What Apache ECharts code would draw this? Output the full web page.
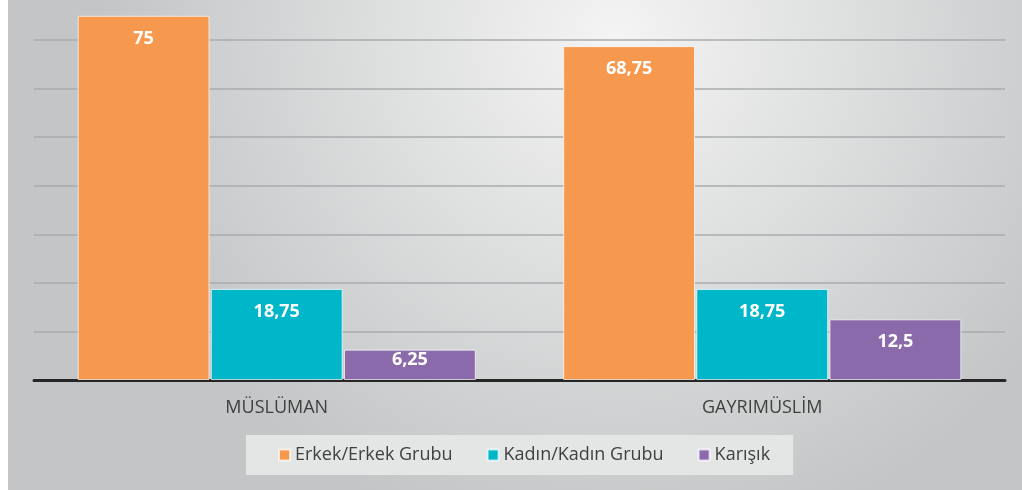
<!DOCTYPE html>
<html>
<head>
<meta charset="utf-8">
<script src="https://cdn.jsdelivr.net/npm/echarts@6/dist/echarts.min.js"></script>
<style>
  html, body { margin: 0; padding: 0; background: #fff; }
  #chart { width: 1014px; height: 490px; margin-left: 8px; }
</style>
</head>
<body>
<div id="chart"></div>
<script>
// kategoriler ve seriler
const categories = ["MÜSLÜMAN", "GAYRIMÜSLİM"];
const erkek = [75, 68.75];
const kadin = [18.75, 18.75];
const karisik = [6.25, 12.5];
const seriesNames = ["Erkek/Erkek Grubu", "Kadın/Kadın Grubu", "Karışık"];
const colors = ["#f7984f", "#00b7c9", "#8b6aab"];

const fmt = (p) => String(p.value).replace(".", ",");

// küçük çubuklarda etiket biraz yukarı kayıyor
const toItems = (arr) => arr.map((v) => (v < 10 ? { value: v, label: { distance: 1 } } : v));

const barSeries = (name, data, color) => ({
  name: name,
  type: "bar",
  data: toItems(data),
  barGap: "1%",
  barCategoryGap: "18%",
  itemStyle: { color: color, borderColor: "rgba(255,255,255,0.7)", borderWidth: 1 },
  label: {
    show: true,
    position: "insideTop",
    distance: 14,
    color: "#fff",
    fontSize: 18,
    fontWeight: "bold",
    fontFamily: "Open Sans",
    formatter: fmt,
  },
});

const myChart = echarts.init(document.getElementById("chart"));
myChart.setOption({
  backgroundColor: {
    type: "radial",
    x: 0.6, y: 0.08, r: 1.05,
    colorStops: [
      { offset: 0, color: "#f4f4f4" },
      { offset: 1, color: "#c3c5c6" },
    ],
  },
  color: colors,
  grid: { left: 26, right: 17, top: 0, bottom: 110 },
  legend: {
    bottom: 15,
    left: 238,
    backgroundColor: "#e4e5e5",
    padding: [11, 23, 11, 32],
    itemWidth: 11,
    itemHeight: 11,
    itemGap: 34,
    icon: "rect",
    textStyle: { color: "#404040", fontSize: 18, fontFamily: "Open Sans" },
    data: seriesNames,
  },
  xAxis: {
    type: "category",
    data: categories,
    axisLine: { lineStyle: { color: "#262626", width: 3 } },
    axisTick: { show: false },
    axisLabel: { color: "#404040", fontSize: 18, fontFamily: "Open Sans", margin: 19 },
  },
  yAxis: {
    type: "value",
    min: 0,
    max: 78.25,
    interval: 10,
    axisLabel: { show: false },
    axisLine: { show: false },
    axisTick: { show: false },
    splitLine: { showMaxLine: false, lineStyle: { color: "#a9abac", width: 1.5 } },
  },
  series: [
    barSeries(seriesNames[0], erkek, colors[0]),
    barSeries(seriesNames[1], kadin, colors[1]),
    barSeries(seriesNames[2], karisik, colors[2]),
  ],
});
</script>
</body>
</html>
